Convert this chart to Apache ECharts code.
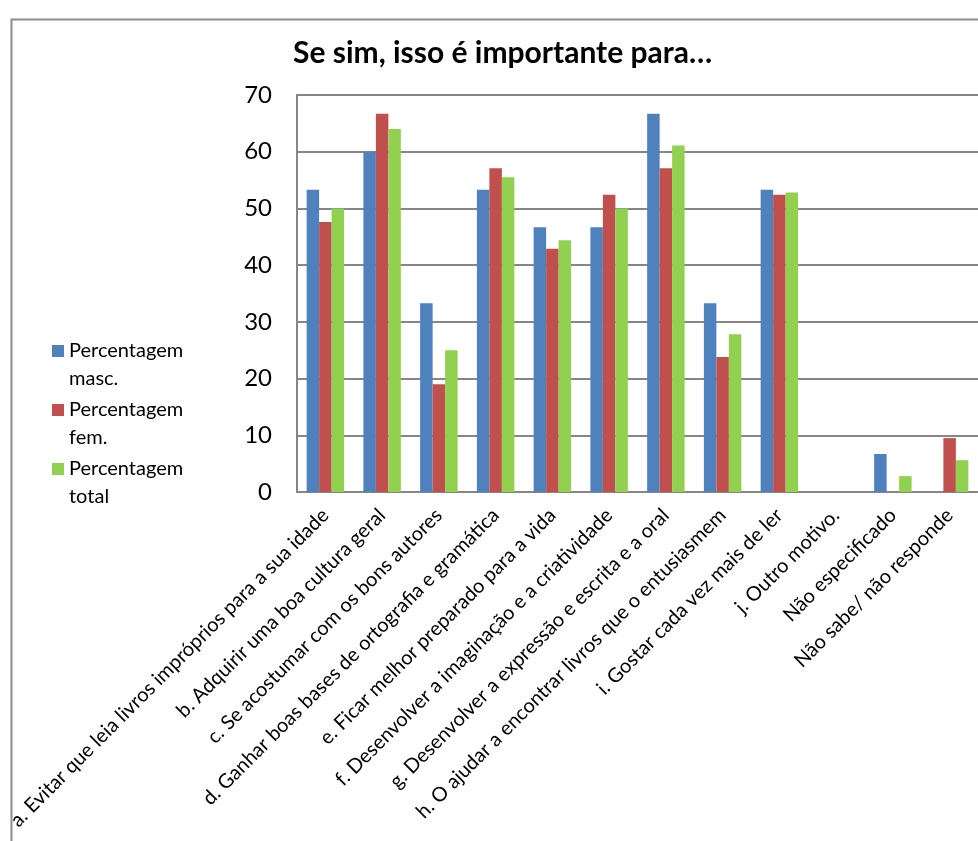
<!DOCTYPE html>
<html>
<head>
<meta charset="utf-8">
<script src="https://cdn.jsdelivr.net/npm/echarts@6/dist/echarts.min.js"></script>
<style>
  html, body { margin: 0; padding: 0; background: #fff; }
  #chart { width: 978px; height: 841px; }
</style>
</head>
<body>
<div id="chart"></div>
<script>
// Reasons why reading is important, by respondent group (%)
const categories = [
  'a. Evitar que leia livros impróprios para a sua idade',
  'b. Adquirir uma boa cultura geral',
  'c. Se acostumar com os bons autores',
  'd. Ganhar boas bases de ortografia e gramática',
  'e. Ficar melhor preparado para a vida',
  'f. Desenvolver a imaginação e a criatividade',
  'g. Desenvolver a expressão e escrita e a oral',
  'h. O ajudar a encontrar livros que o entusiasmem',
  'i. Gostar cada vez mais de ler',
  'j. Outro motivo.',
  'Não especificado',
  'Não sabe/ não responde'
];
const seriesNames = ['Percentagem masc.', 'Percentagem fem.', 'Percentagem total'];
const masc  = [53.3, 60.0, 33.3, 53.3, 46.7, 46.7, 66.7, 33.3, 53.3, 0, 6.7, 0];
const fem   = [47.6, 66.7, 19.0, 57.1, 42.9, 52.4, 57.1, 23.8, 52.4, 0, 0, 9.5];
const total = [50.0, 64.0, 25.0, 55.5, 44.4, 50.0, 61.1, 27.8, 52.8, 0, 2.8, 5.6];
const yTicks = { min: 0, max: 70, interval: 10 };

const colors = ['#4F81BD', '#C0504D', '#92D050'];
const FONT = 'Lato';

const chart = echarts.init(document.getElementById('chart'), null, { renderer: 'canvas' });

// one legend block per series; a blank leading line keeps the swatch level
// with the first line of the two-line label
const LINE_H = 28;
const legendTops = [304, 363, 422];
const legends = seriesNames.map((name, i) => ({
  data: [name],
  orient: 'vertical',
  left: 47,
  top: legendTops[i],
  itemWidth: 12,
  itemHeight: 12,
  itemGap: 0,
  icon: 'rect',
  selectedMode: false,
  formatter: n => ' \n' + n.replace(' ', '\n'),
  textStyle: {
    fontFamily: FONT,
    fontSize: 20,
    color: '#000',
    lineHeight: LINE_H
  }
}));

const option = {
  backgroundColor: '#fff',
  animation: false,
  color: colors,
  title: {
    text: 'Se sim, isso é importante para…',
    left: 288,
    top: 33,
    textStyle: { fontFamily: FONT, fontSize: 30, fontWeight: 'bold', color: '#000' }
  },
  legend: legends,
  grid: { left: 297, top: 95, right: -12, bottom: 349, containLabel: false },
  xAxis: {
    type: 'category',
    data: categories,
    axisLine: { show: true, lineStyle: { color: '#868686', width: 2 } },
    axisTick: { show: false },
    axisLabel: {
      interval: 0,
      rotate: 45,
      margin: 20,
      fontFamily: FONT,
      fontSize: 20,
      color: '#000'
    }
  },
  yAxis: {
    type: 'value',
    min: yTicks.min,
    max: yTicks.max,
    interval: yTicks.interval,
    axisLine: { show: true, lineStyle: { color: '#868686', width: 2 } },
    axisTick: { show: false },
    axisLabel: { fontFamily: FONT, fontSize: 24, color: '#000', margin: 25 },
    splitLine: { show: true, lineStyle: { color: '#868686', width: 2 } }
  },
  series: [masc, fem, total].map((d, i) => ({
    name: seriesNames[i],
    type: 'bar',
    data: d,
    barGap: '0%',
    barCategoryGap: '34%',
    itemStyle: { color: colors[i] }
  })),
  graphic: [{
    type: 'rect',
    left: 9,
    top: 17,
    shape: { width: 1100, height: 1000 },
    style: { fill: 'none', stroke: '#8c8c8c', lineWidth: 2 },
    silent: true,
    z: -1
  }]
};

chart.setOption(option);
</script>
</body>
</html>
